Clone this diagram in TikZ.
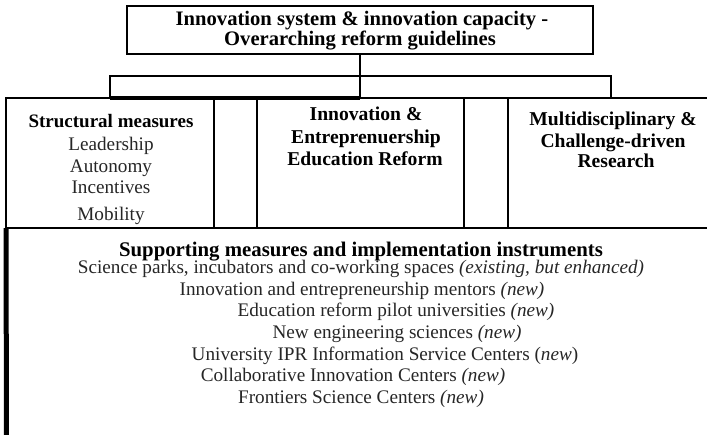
\documentclass[tikz,border=0pt]{standalone}
\usepackage{fontspec}
\setmainfont{Liberation Serif}
\usetikzlibrary{positioning}

\begin{document}
\begin{tikzpicture}[
            x = 0.5pt, y = -0.5pt, % one unit per pixel of the layout
            box/.style = {draw=black, line width=1pt, inner sep=0pt, outer sep=0pt},
            txt/.style = {anchor=base, inner sep=0pt, text=black!85,
                          font=\fontsize{9.6}{11}\selectfont},
            head/.style = {txt, text=black, font=\fontsize{#1}{11}\selectfont\bfseries},
            head/.default = 9.8,
            node distance = 0pt
        ]
\clip (0,0) rectangle (707,434);

% top of the tree
\node[box, minimum width=233pt, minimum height=24pt] (guide) at (360,30) {};
\node[head=10.3] (guideA) at (362,25) {Innovation system \& innovation capacity -};
\node[head=10.3] (guideB) at (360,45) {Overarching reform guidelines};
\node[box, minimum width=250.5pt, minimum height=11pt] (bracket) at (360.5,87) {};

% row of pillars
\node[box, minimum width=104pt, minimum height=65pt] (struct) at (110,163) {};
\node[box, minimum width=21.5pt, minimum height=65pt, right=of struct] (gapA) {};
\node[box, minimum width=103.5pt, minimum height=65pt, right=of gapA] (innov) {};
\node[box, minimum width=22pt, minimum height=65pt, right=of innov] (gapB) {};
\node[box, minimum width=110pt, minimum height=65pt, right=of gapB] (multi) {};

\coordinate (foot) at (6.5,440);

\draw[line width=1pt] (guide.south) -- (guide.south |- bracket.south);
\draw[line width=1.6pt] (bracket.south west) -- (guide.south |- bracket.south);
\draw[line width=2.5pt] (struct.south west) -- (foot);

\node[head=9.5] (structA) at (111,127) {Structural measures};
\node[txt] (structB) at (111,150) {Leadership};
\node[txt] (structC) at (111,172) {Autonomy};
\node[txt] (structD) at (111,193) {Incentives};
\node[txt] (structE) at (111,220) {Mobility};

\node[head] (innovA) at (366,120) {Innovation \&};
\node[head] (innovB) at (366,143) {Entreprenuership};
\node[head] (innovC) at (365,165) {Education Reform};

\node[head] (multiA) at (613,125) {Multidisciplinary \&};
\node[head] (multiB) at (613,147) {Challenge-driven};
\node[head] (multiC) at (616,167) {Research};

% supporting instruments
\node[head=10.4] (supA) at (361,256) {Supporting measures and implementation instruments};
\node[txt] (supB) at (361,273) {Science parks, incubators and co-working spaces \textit{(existing, but enhanced)}};
\node[txt] (supC) at (362,295) {Innovation and entrepreneurship mentors \textit{(new)}};
\node[txt] (supD) at (396,316) {Education reform pilot universities \textit{(new)}};
\node[txt] (supE) at (397,338) {New engineering sciences \textit{(new)}};
\node[txt] (supF) at (385,360) {University IPR Information Service Centers (\textit{new})};
\node[txt] (supG) at (353,381) {Collaborative Innovation Centers \textit{(new)}};
\node[txt] (supH) at (361,403) {Frontiers Science Centers \textit{(new)}};
\end{tikzpicture}
\end{document}
